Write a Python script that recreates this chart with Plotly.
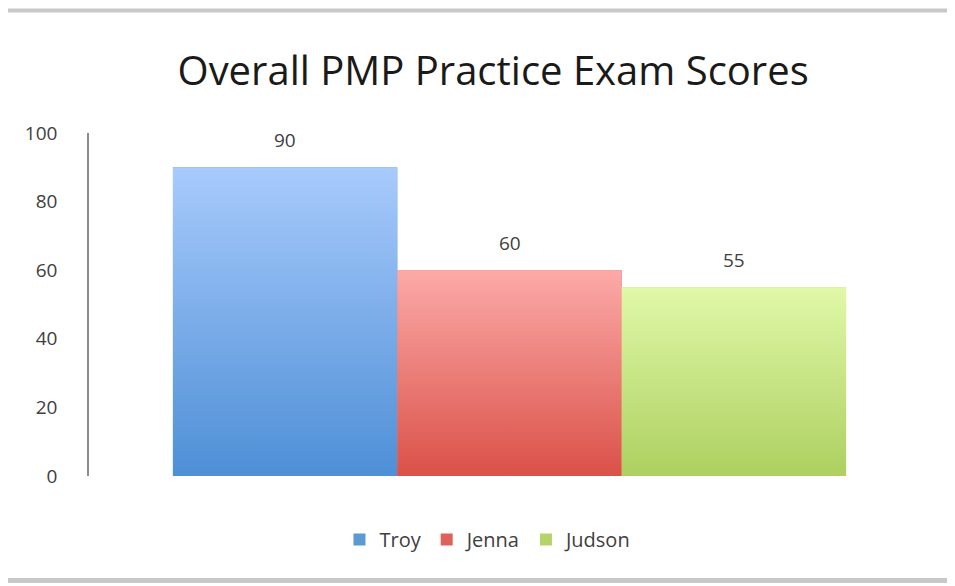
import plotly.graph_objects as go

students = ["Troy", "Jenna", "Judson"]
scores = [90, 60, 55]
legend_colors = ["#5b9bd5", "#e0605a", "#b4d46a"]
top_colors = ["#a8cafc", "#fcaaa8", "#e0f8a8"]
bottom_colors = ["#4e8fd6", "#da5148", "#add060"]

FONT = "Open Sans, Lato"

fig = go.Figure()

# plain bars carry the legend entries
for i, (name, val) in enumerate(zip(students, scores)):
    fig.add_trace(go.Bar(
        x=[i], y=[val], width=1, name=name,
        marker=dict(color=legend_colors[i], line=dict(width=0)),
        hoverinfo="skip",
    ))

# gradient fill drawn on top of each bar
for i, (name, val) in enumerate(zip(students, scores)):
    fig.add_trace(go.Scatter(
        x=[i - 0.5, i - 0.5, i + 0.5, i + 0.5, i - 0.5],
        y=[0, val, val, 0, 0],
        mode="lines", line=dict(width=0), fill="toself",
        fillgradient=dict(type="vertical", start=0, stop=val,
                          colorscale=[[0, bottom_colors[i]], [1, top_colors[i]]]),
        showlegend=False, hoverinfo="skip",
    ))
    fig.add_annotation(x=i, y=val, text=str(val), showarrow=False,
                       yanchor="bottom", yshift=12,
                       font=dict(family=FONT, size=19, color="#404040"))

# spreadsheet frame lines top and bottom
for yy, w in [(1.357, 4), (-0.305, 5)]:
    fig.add_shape(type="line", xref="paper", yref="paper",
                  x0=-0.101, x1=1.035, y0=yy, y1=yy,
                  line=dict(color="#c8c8c8", width=w))

fig.update_layout(
    width=955, height=586,
    margin=dict(l=81, r=33, t=125, b=118, autoexpand=False),
    paper_bgcolor="white", plot_bgcolor="white",
    barmode="overlay",
    title=dict(text="Overall PMP Practice Exam Scores", x=0.508, xanchor="center",
               y=0.893, yanchor="middle",
               font=dict(family=FONT, size=40, color="#1a1a1a")),
    xaxis=dict(range=[-0.874, 2.874], showticklabels=False, showgrid=False,
               zeroline=False, showline=False, ticks=""),
    yaxis=dict(range=[0, 100], dtick=20, showgrid=False, zeroline=False,
               showline=True, linecolor="#8c8c8c", linewidth=1.5,
               ticks="", ticklabelstandoff=26,
               tickfont=dict(family=FONT, size=19, color="#404040")),
    legend=dict(orientation="h", x=0.475, xanchor="center", y=-0.185, yanchor="middle",
                font=dict(family=FONT, size=20, color="#404040"),
                itemwidth=30, traceorder="normal"),
    showlegend=True,
)

fig.write_html("out.html")
